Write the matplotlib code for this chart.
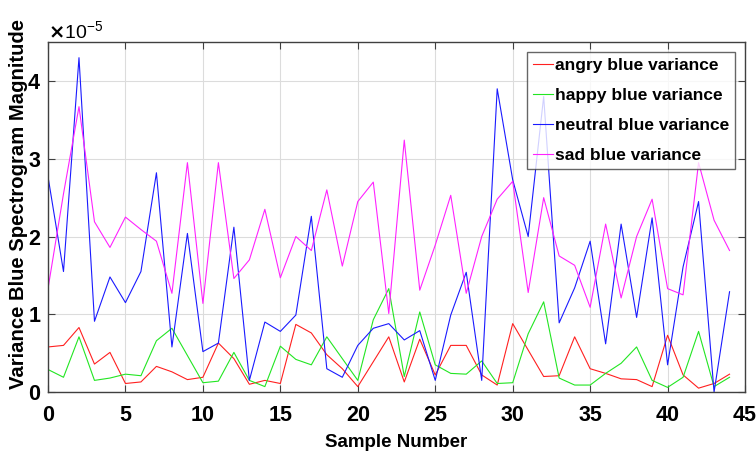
import numpy as np
import matplotlib
matplotlib.use('Agg')
from matplotlib import pyplot as plt
from matplotlib.ticker import ScalarFormatter

# variance of the blue spectrogram magnitude per sample (x 1e-5)
angry = [0.58, 0.60, 0.83, 0.36, 0.51, 0.11, 0.13, 0.33, 0.26, 0.16,
         0.19, 0.63, 0.43, 0.10, 0.15, 0.11, 0.87, 0.76, 0.48, 0.30,
         0.07, 0.39, 0.71, 0.13, 0.68, 0.22, 0.60, 0.60, 0.22, 0.09,
         0.88, 0.54, 0.20, 0.21, 0.71, 0.30, 0.24, 0.17, 0.16, 0.07,
         0.73, 0.22, 0.05, 0.11, 0.23]
happy = [0.29, 0.19, 0.71, 0.15, 0.18, 0.23, 0.21, 0.66, 0.82, 0.47,
         0.12, 0.14, 0.51, 0.15, 0.07, 0.59, 0.42, 0.35, 0.71, 0.43,
         0.15, 0.93, 1.33, 0.20, 1.03, 0.35, 0.24, 0.23, 0.40, 0.11,
         0.12, 0.75, 1.16, 0.18, 0.09, 0.09, 0.24, 0.37, 0.58, 0.15,
         0.06, 0.19, 0.78, 0.07, 0.19]
neutral = [2.77, 1.55, 4.30, 0.91, 1.48, 1.15, 1.55, 2.82, 0.58, 2.04,
           0.52, 0.63, 2.12, 0.15, 0.90, 0.78, 0.99, 2.26, 0.30, 0.19,
           0.60, 0.82, 0.88, 0.67, 0.79, 0.15, 0.99, 1.54, 0.15, 3.90,
           2.73, 2.00, 3.80, 0.89, 1.34, 1.94, 0.62, 2.16, 0.96, 2.24,
           0.35, 1.61, 2.45, 0.00, 1.29]
sad = [1.33, 2.55, 3.67, 2.19, 1.86, 2.25, 2.09, 1.94, 1.27, 2.95,
       1.14, 2.95, 1.46, 1.70, 2.35, 1.47, 2.00, 1.82, 2.60, 1.62,
       2.45, 2.70, 1.01, 3.24, 1.31, 1.89, 2.53, 1.27, 2.00, 2.48,
       2.71, 1.28, 2.50, 1.75, 1.63, 1.09, 2.16, 1.21, 2.00, 2.48,
       1.33, 1.25, 2.95, 2.21, 1.82]
labels = ['angry blue variance', 'happy blue variance',
          'neutral blue variance', 'sad blue variance']
colors = ['#ff2020', '#22e622', '#1a1aff', '#ff22ff']

plt.rcParams['font.family'] = ['Liberation Sans', 'DejaVu Sans']
plt.rcParams['font.weight'] = 'bold'

fig = plt.figure(figsize=(7.56, 4.58), dpi=100)
ax = fig.add_axes([0.0635, 0.144, 0.922, 0.764])

x = np.arange(len(angry))
for ys, lab, c in zip([angry, happy, neutral, sad], labels, colors):
    ax.plot(x, np.array(ys) * 1e-5, color=c, lw=0.8, label=lab)

ax.set_xlim(0, 45)
ax.set_ylim(0, 4.5e-5)
ax.set_xticks(np.arange(0, 46, 5))
ax.set_yticks(np.arange(0, 5e-5, 1e-5))

fmt = ScalarFormatter(useMathText=True)
fmt.set_powerlimits((0, 0))
ax.yaxis.set_major_formatter(fmt)
ax.yaxis.get_offset_text().set_fontsize(14)
ax.yaxis.get_offset_text().set_fontweight('normal')

ax.grid(True, color='#dcdcdc', lw=0.8)
ax.set_axisbelow(True)
ax.tick_params(direction='in', top=True, right=True, length=5,
               color='#404040', labelsize=15.5)
ax.tick_params(axis='x', pad=9)
ax.tick_params(axis='y', pad=5)
for s in ax.spines.values():
    s.set_color('#404040')
    s.set_linewidth(1.0)

ax.set_xlabel('Sample Number', fontsize=13.5, fontweight='bold', labelpad=6)
ax.set_ylabel('Variance Blue Spectrogram Magnitude', fontsize=14.6, fontweight='bold')
ax.yaxis.set_label_coords(-0.029, 0.537)

leg = ax.legend(loc='upper right', fontsize=12.5, frameon=True, fancybox=False,
                edgecolor='#404040', handlelength=1.15, handletextpad=0.1,
                borderpad=0.35, labelspacing=0.85, borderaxespad=0.55)
leg.get_frame().set_linewidth(1.0)
for t in leg.get_texts():
    t.set_fontweight('bold')

fig.savefig('out.png', dpi=100)
